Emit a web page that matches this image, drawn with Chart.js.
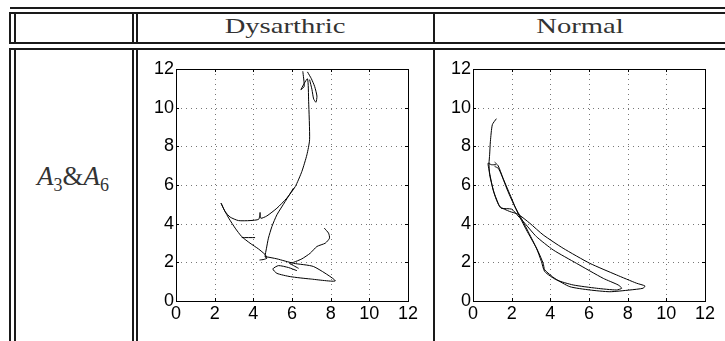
<!DOCTYPE html>
<html>
<head>
<meta charset="utf-8">
<script src="https://cdn.jsdelivr.net/npm/chart.js@4"></script>
<style>
  body { margin: 0; background: #fff; }
  #page { position: relative; width: 725px; height: 341px; overflow: hidden; }
  .ln { position: absolute; background: #1a1a1a; }
  .hdr { position: absolute; font-family: 'Liberation Serif', serif; font-size: 22px; color: #333; white-space: nowrap; }
  .plot { position: absolute; }
</style>
</head>
<body>
<div id="page">
  <div class="ln" style="left:10px;top:7px;width:715px;height:2px"></div>
  <div class="ln" style="left:9px;top:12px;width:716px;height:2px"></div>
  <div class="ln" style="left:9px;top:42px;width:716px;height:2px"></div>
  <div class="ln" style="left:9px;top:48px;width:716px;height:2px"></div>

  <div class="ln" style="left:9px;top:12px;width:2px;height:32px"></div>
  <div class="ln" style="left:14px;top:12px;width:2px;height:32px"></div>
  <div class="ln" style="left:132px;top:12px;width:2px;height:32px"></div>
  <div class="ln" style="left:136px;top:12px;width:2px;height:32px"></div>
  <div class="ln" style="left:433px;top:12px;width:2px;height:32px"></div>

  <div class="ln" style="left:9px;top:48px;width:2px;height:293px"></div>
  <div class="ln" style="left:14px;top:48px;width:2px;height:293px"></div>
  <div class="ln" style="left:132px;top:48px;width:2px;height:293px"></div>
  <div class="ln" style="left:136px;top:48px;width:2px;height:293px"></div>
  <div class="ln" style="left:433px;top:48px;width:2px;height:293px"></div>

  <div class="hdr" style="left:285px;top:13px;transform:translateX(-50%) scaleX(1.3)">Dysarthric</div>
  <div class="hdr" style="left:580px;top:13px;transform:translateX(-50%) scaleX(1.3)">Normal</div>
  <div class="hdr" style="left:73px;top:161px;font-size:27px;transform:translateX(-50%)"><i>A</i><sub style="font-size:18px">3</sub>&amp;<i>A</i><sub style="font-size:18px">6</sub></div>

  <div class="plot" style="left:136px;top:52px;width:289px;height:289px"><canvas id="dys"></canvas></div>
  <div class="plot" style="left:433px;top:52px;width:289px;height:289px"><canvas id="nor"></canvas></div>
</div>
<script>
// оси: одинаковые для обеих панелей
const tickValues = [0, 2, 4, 6, 8, 10, 12];

// Dysarthric — куски траектории
const dysStemX = [6.56, 6.63, 6.46, 6.80, 6.86, 6.91, 6.77, 6.51, 6.17, 5.73, 5.22, 4.70, 4.39, 4.35, 4.28, 3.83, 3.23, 2.80, 2.54, 2.33];
const dysStemY = [11.88, 11.10, 10.93, 11.49, 10.33, 8.34, 7.56, 6.70, 5.92, 5.32, 4.80, 4.40, 4.28, 4.58, 4.23, 4.16, 4.16, 4.34, 4.63, 5.06];
const dysLoopX = [6.80, 7.00, 7.17, 7.29, 7.24, 7.12, 7.03, 6.91];
const dysLoopY = [11.85, 11.50, 11.10, 10.60, 10.28, 10.45, 10.95, 11.45];
const dysLeftX = [2.33, 2.50, 2.75, 3.06, 3.40, 3.83, 4.27, 4.61, 4.70, 4.55, 4.32];
const dysLeftY = [5.06, 4.70, 4.25, 3.77, 3.33, 2.99, 2.69, 2.40, 2.22, 2.15, 2.12];
const dysDashX = [3.40, 4.09];
const dysDashY = [3.28, 3.28];
const dysMidX = [6.08, 5.65, 5.22, 4.96, 4.78, 4.68, 4.61, 4.70];
const dysMidY = [5.84, 5.15, 4.46, 3.85, 3.25, 2.73, 2.30, 2.18];
const dysBottomX = [4.61, 5.22, 6.08, 7.12, 8.24, 6.94, 5.91, 5.22, 5.01, 5.30, 5.82, 6.25];
const dysBottomY = [2.30, 2.18, 1.95, 1.78, 1.04, 1.14, 1.26, 1.43, 1.66, 1.83, 1.73, 1.57];
const dysHookX = [7.67, 7.89, 7.94, 7.72, 7.29, 6.94, 6.51, 6.08, 5.87, 6.08, 6.34];
const dysHookY = [3.77, 3.51, 3.25, 2.99, 2.82, 2.47, 2.18, 2.00, 1.95, 1.83, 1.69];

// Normal
const norOuterX = [1.21, 1.00, 0.90, 0.86, 0.83, 0.86, 1.12, 1.38, 1.90, 2.33, 2.94, 3.63, 4.66, 6.04, 7.42, 8.46, 8.89, 8.80, 8.12, 7.08, 6.04, 5.01, 4.23, 3.71, 3.63, 3.37, 2.94, 2.50, 2.16, 1.81, 1.47, 1.30, 1.12];
const norOuterY = [9.43, 9.12, 8.26, 7.56, 7.13, 6.53, 5.49, 4.89, 4.63, 4.49, 4.02, 3.42, 2.73, 1.95, 1.35, 0.92, 0.78, 0.66, 0.57, 0.48, 0.57, 0.74, 1.17, 1.61, 1.95, 2.56, 3.42, 4.28, 4.89, 5.66, 6.53, 6.87, 6.96];
const norInnerX = [1.12, 1.30, 1.55, 1.99, 2.28, 2.76, 3.28, 3.54, 3.71, 4.32, 5.18, 6.39, 7.42, 7.69, 7.51, 6.74, 5.35, 4.15, 3.28, 2.68, 2.33, 2.00, 1.45, 1.30, 1.04, 0.83, 0.78, 0.95, 1.20];
const norInnerY = [7.18, 7.00, 6.36, 5.32, 4.63, 3.68, 2.73, 2.04, 1.52, 1.09, 0.83, 0.66, 0.57, 0.66, 0.83, 1.17, 1.95, 2.64, 3.33, 4.02, 4.40, 4.75, 4.80, 5.06, 5.75, 6.78, 7.13, 7.05, 7.05];

const tickFont = { family: "'Liberation Sans', Arial, sans-serif", size: 18 };

function pts(xs, ys) {
    return xs.map((x, i) => ({ x: x, y: ys[i] }));
}

function seg(xs, ys) {
    return {
        data: pts(xs, ys),
        showLine: true,
        borderColor: '#000',
        borderWidth: 1,
        pointRadius: 0,
        tension: 0.2
    };
}

// рамка, пунктирная сетка и внутренние засечки как в MATLAB
const frame = {
    id: 'frame',
    beforeDatasetsDraw(chart) {
        const { ctx, chartArea: a, scales: { x, y } } = chart;
        ctx.save();
        ctx.lineWidth = 1;
        ctx.strokeStyle = '#777';
        ctx.setLineDash([1, 4]);
        tickValues.forEach(v => {
            if (v <= 0 || v >= 12) return;
            const px = Math.round(x.getPixelForValue(v)) + 0.5;
            const py = Math.round(y.getPixelForValue(v)) + 0.5;
            ctx.beginPath(); ctx.moveTo(px, a.top); ctx.lineTo(px, a.bottom); ctx.stroke();
            ctx.beginPath(); ctx.moveTo(a.left, py); ctx.lineTo(a.right, py); ctx.stroke();
        });
        ctx.setLineDash([]);
        ctx.strokeStyle = '#000';
        ctx.strokeRect(Math.round(a.left) + 0.5, Math.round(a.top) + 0.5, Math.round(a.right - a.left), Math.round(a.bottom - a.top));
        tickValues.forEach(v => {
            const px = Math.round(x.getPixelForValue(v)) + 0.5;
            const py = Math.round(y.getPixelForValue(v)) + 0.5;
            ctx.beginPath();
            ctx.moveTo(px, a.bottom); ctx.lineTo(px, a.bottom - 3);
            ctx.moveTo(px, a.top); ctx.lineTo(px, a.top + 3);
            ctx.moveTo(a.left, py); ctx.lineTo(a.left + 3, py);
            ctx.moveTo(a.right, py); ctx.lineTo(a.right - 3, py);
            ctx.stroke();
        });
        ctx.restore();
    }
};

function makeChart(id, datasets) {
    return new Chart(document.getElementById(id).getContext('2d'), {
        type: 'scatter',
        data: { datasets: datasets },
        options: {
            responsive: true,
            maintainAspectRatio: false,
            animation: false,
            layout: { padding: { left: 0, right: 17, top: 17, bottom: 0 } },
            plugins: { legend: { display: false }, tooltip: { enabled: false } },
            scales: {
                x: {
                    type: 'linear', min: 0, max: 12,
                    afterBuildTicks: s => { s.ticks = tickValues.map(v => ({ value: v })); },
                    afterFit: s => { s.height = 40; },
                    grid: { display: false, drawTicks: false },
                    border: { display: false },
                    ticks: { color: '#000', font: tickFont, padding: 2, maxRotation: 0, autoSkip: false }
                },
                y: {
                    type: 'linear', min: 0, max: 12,
                    afterBuildTicks: s => { s.ticks = tickValues.map(v => ({ value: v })); },
                    afterFit: s => { s.width = 40; },
                    grid: { display: false, drawTicks: false },
                    border: { display: false },
                    ticks: { color: '#000', font: tickFont, padding: 2, autoSkip: false }
                }
            }
        },
        plugins: [frame]
    });
}

makeChart('dys', [
    seg(dysStemX, dysStemY),
    seg(dysLoopX, dysLoopY),
    seg(dysLeftX, dysLeftY),
    seg(dysDashX, dysDashY),
    seg(dysMidX, dysMidY),
    seg(dysBottomX, dysBottomY),
    seg(dysHookX, dysHookY)
]);

makeChart('nor', [
    seg(norOuterX, norOuterY),
    seg(norInnerX, norInnerY)
]);
</script>
</body>
</html>
